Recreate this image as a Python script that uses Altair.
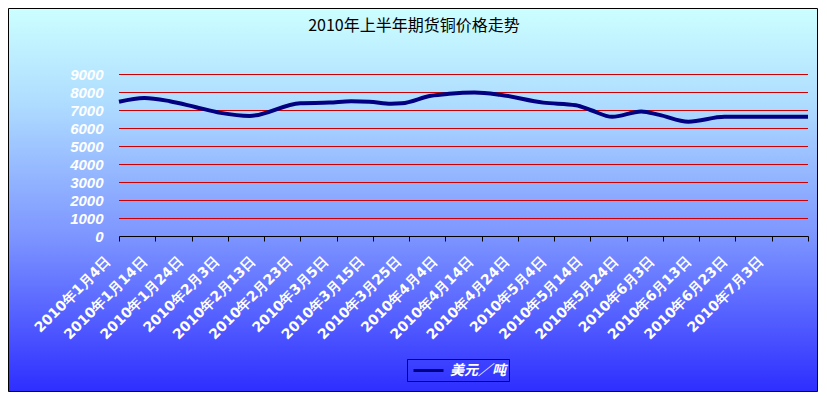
import json
import altair as alt
import pandas as pd

# ---- data ----
title_text = "2010年上半年期货铜价格走势"
series_name = "美元／吨"

dates = [
    "2010-01-04", "2010-01-11", "2010-01-18", "2010-01-25", "2010-02-01",
    "2010-02-09", "2010-02-23", "2010-03-03", "2010-03-09", "2010-03-14",
    "2010-03-20", "2010-03-23", "2010-03-31", "2010-04-05", "2010-04-12",
    "2010-04-19", "2010-05-01", "2010-05-10", "2010-05-14", "2010-05-20",
    "2010-05-28", "2010-06-02", "2010-06-10", "2010-06-20", "2010-07-13",
]
prices = [
    7460, 7670, 7490, 7170, 6840,
    6670, 7380, 7410, 7480, 7460,
    7350, 7370, 7790, 7900, 7970,
    7850, 7410, 7260, 7000, 6620,
    6920, 6730, 6350, 6620, 6620,
]

x_tick_days = list(range(0, 191, 10))
x_tick_labels = [
    "2010年1月4日", "2010年1月14日", "2010年1月24日", "2010年2月3日",
    "2010年2月13日", "2010年2月23日", "2010年3月5日", "2010年3月15日",
    "2010年3月25日", "2010年4月4日", "2010年4月14日", "2010年4月24日",
    "2010年5月4日", "2010年5月14日", "2010年5月24日", "2010年6月3日",
    "2010年6月13日", "2010年6月23日", "2010年7月3日",
]
y_ticks = [0, 1000, 2000, 3000, 4000, 5000, 6000, 7000, 8000, 9000]
grid_values = y_ticks[1:]

start = pd.Timestamp("2010-01-04")
df = pd.DataFrame({"date": pd.to_datetime(dates), "price": prices})
df["day"] = (df["date"] - start).dt.days
df["series"] = series_name
df = df[["day", "price", "series"]]

W, H = 689, 162

x_scale = alt.Scale(domain=[0, 190], nice=False, zero=False)
y_scale = alt.Scale(domain=[0, 9000], nice=False)

label_expr = json.dumps(x_tick_labels, ensure_ascii=False) + "[datum.value / 10] || ''"

y_axis = alt.Axis(
    title=None, values=y_ticks, format="d", grid=False, domain=False,
    ticks=False, tickSize=0, labelColor="white", labelFont="Liberation Sans",
    labelFontWeight="bold", labelFontStyle="italic", labelFontSize=15,
    labelPadding=16, labelOverlap=False, zindex=1,
)

bg = alt.Chart(alt.Data(values=[{"k": 1}])).mark_rect(
    fill=alt.LinearGradient(
        gradient="linear", x1=0, y1=0, x2=0, y2=1,
        stops=[
            alt.GradientStop(color="#CCFFFF", offset=0),
            alt.GradientStop(color="#AEDCFF", offset=0.25),
            alt.GradientStop(color="#7C94FF", offset=0.6),
            alt.GradientStop(color="#2E2EFF", offset=1),
        ],
    ),
    stroke="black", strokeWidth=1,
).encode(
    x=alt.value(-110.5), x2=alt.value(698.5),
    y=alt.value(-65.5), y2=alt.value(317.5),
)

title = alt.Chart(alt.Data(values=[{"t": title_text}])).mark_text(
    font="Noto Sans CJK SC", fontSize=16, color="black",
    align="center", baseline="middle",
).encode(x=alt.value(295), y=alt.value(-48), text="t:N")

grid = alt.Chart(pd.DataFrame({"v": grid_values})).mark_rule(
    color="#CC0000", strokeWidth=1, yOffset=0.5
).encode(y=alt.Y("v:Q", scale=y_scale, axis=y_axis))

line = alt.Chart(df).mark_line(interpolate="monotone", strokeWidth=4).encode(
    x=alt.X("day:Q", scale=x_scale, axis=alt.Axis(
        title=None, values=x_tick_days, labelExpr=label_expr,
        grid=False, domainColor="black", domainWidth=1,
        tickColor="black", tickSize=5, ticks=True,
        labelAngle=315, labelAlign="right", labelBaseline="middle",
        labelColor="white", labelFont="DejaVu Sans", labelFontWeight="bold",
        labelFontSize=14, labelPadding=18, labelOffset=-11,
        labelOverlap=False, labelFlush=False, labelBound=False, zindex=1,
    )),
    y=alt.Y("price:Q", scale=y_scale, axis=y_axis),
    color=alt.Color("series:N", scale=alt.Scale(range=["#000080"]), legend=alt.Legend(
        orient="none", legendX=288, legendY=285, title=None, padding=3,
        strokeColor="#000066", symbolType="M-2.143,0H2.143", symbolSize=196,
        symbolOffset=10, symbolStrokeWidth=3, labelColor="white",
        labelFont="Noto Sans CJK SC", labelFontSize=14, labelFontStyle="italic",
        labelFontWeight="bold", labelOffset=13, zindex=1,
    )),
)

chart = alt.layer(bg, title, grid, line).properties(
    width=W, height=H,
    autosize=alt.AutoSizeParams(type="none"),
    padding={"left": 111, "top": 66, "right": 11, "bottom": 157},
).configure_view(stroke=None)

chart.save("out.html", embed_options={"renderer": "svg", "actions": False})
